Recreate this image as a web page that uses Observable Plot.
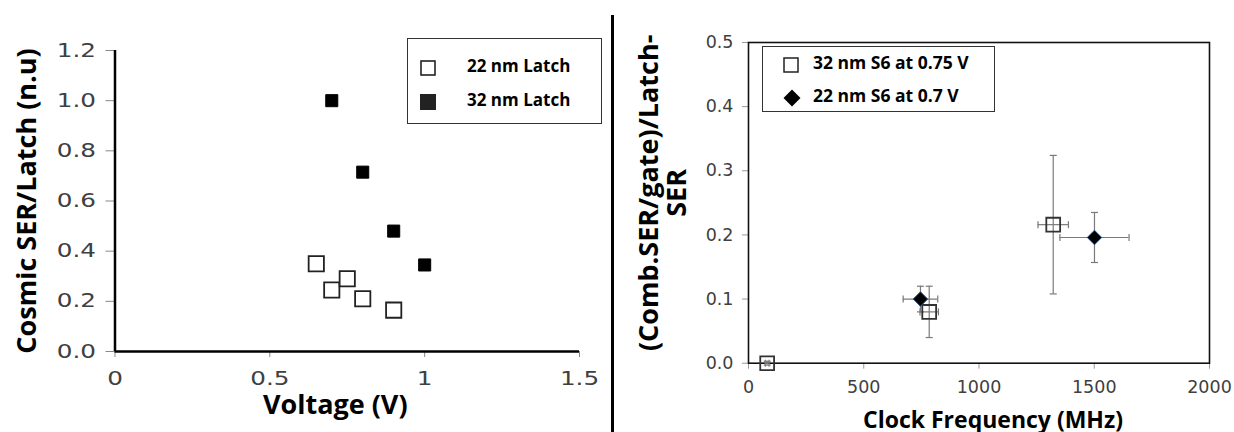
<!DOCTYPE html>
<html>
<head>
<meta charset="utf-8">
<script src="https://cdn.jsdelivr.net/npm/d3@7"></script>
<script src="https://cdn.jsdelivr.net/npm/@observablehq/plot@0.6"></script>
<style>
  html, body { margin: 0; padding: 0; background: #fff; }
  #wrap { position: relative; width: 1234px; height: 432px; overflow: hidden; background: #fff; }
  .panel { position: absolute; top: 0; }
  .legend { position: absolute; border: 1.5px solid #333; box-sizing: border-box; background: #fff; }
  .lgitem { position: absolute; font-family: 'Open Sans', sans-serif; font-weight: bold; color: #000; white-space: nowrap; line-height: 1; }
  .lgsym { position: absolute; }
</style>
</head>
<body>
<div id="wrap"></div>
<script>
// ---------- Left chart data ----------
const volt22 = [0.65, 0.70, 0.75, 0.80, 0.90];
const ser22  = [0.35, 0.245, 0.29, 0.21, 0.165];
const volt32 = [0.70, 0.80, 0.90, 1.00];
const ser32  = [1.00, 0.715, 0.48, 0.345];
const leftYTicks = [0, 0.2, 0.4, 0.6, 0.8, 1.0, 1.2];
const leftXTicks = [0, 0.5, 1, 1.5];
const leftLegend = ["22 nm Latch", "32 nm Latch"];

// ---------- Right chart data ----------
const freq32 = [81, 784, 1322];
const comb32 = [0.0, 0.08, 0.216];
const freqErr32 = [8, 40, 66];
const combErr32 = [0.003, 0.04, 0.108];
const freq22 = [746, 1501];
const comb22 = [0.100, 0.196];
const freqErr22 = [75, 150];
const combErr22 = [0.02, 0.039];
const rightYTicks = [0, 0.1, 0.2, 0.3, 0.4, 0.5];
const rightXTicks = [0, 500, 1000, 1500, 2000];
const rightLegend = ["32 nm S6 at 0.75 V", "22 nm S6 at 0.7 V"];

const wrap = document.getElementById("wrap");
const TITLE_FONT = "'Open Sans', sans-serif";
const TICK_FONT = "'DejaVu Sans', sans-serif";

const hcap = { draw(ctx, size) { const r = Math.sqrt(size / Math.PI); ctx.moveTo(-r, 0); ctx.lineTo(r, 0); } };
const vcap = { draw(ctx, size) { const r = Math.sqrt(size / Math.PI); ctx.moveTo(0, -r); ctx.lineTo(0, r); } };

function stretchTickLabels(svg, sx) {
  svg.querySelectorAll('g[aria-label$="tick label"] text').forEach(t => {
    const tr = t.getAttribute("transform") || "";
    t.setAttribute("transform", tr + ` scale(${sx},1)`);
  });
}

// ---------- Left plot ----------
const d22 = volt22.map((v, i) => ({ v, s: ser22[i] }));
const d32 = volt32.map((v, i) => ({ v, s: ser32[i] }));

const left = Plot.plot({
  width: 612, height: 432,
  marginLeft: 114.5, marginRight: 33, marginTop: 50, marginBottom: 81,
  x: { domain: [0, 1.5] },
  y: { domain: [0, 1.2] },
  style: { fontFamily: TICK_FONT, fontSize: "19px", background: "transparent" },
  marks: [
    Plot.axisY({ ticks: leftYTicks, tickFormat: d3.format(".1f"), tickSize: 9, tickPadding: 10, stroke: "#888", fill: "#404040", label: null }),
    Plot.axisX({ ticks: leftXTicks, tickFormat: d => String(d), tickSize: 6, tickPadding: 14, stroke: "#888", fill: "#404040", label: null }),
    Plot.ruleX([0], { stroke: "#000", strokeWidth: 2.5 }),
    Plot.ruleY([0], { stroke: "#000", strokeWidth: 2.5 }),
    Plot.dot(d32, { x: "v", y: "s", symbol: "square", r: 6.8, fill: "#000", stroke: "#000", strokeWidth: 1 }),
    Plot.dot(d22, { x: "v", y: "s", symbol: "square", r: 8.6, fill: "#fff", stroke: "#222", strokeWidth: 1.8 }),
    Plot.text(["Cosmic SER/Latch (n.u)"], { text: d => d, frameAnchor: "left", rotate: -90, textAnchor: "middle", lineAnchor: "middle", dx: -87.5, fontSize: 27, fontWeight: "bold", fontFamily: TITLE_FONT, fill: "#000" }),
    Plot.text(["Voltage (V)"], { text: d => d, frameAnchor: "bottom", textAnchor: "middle", lineAnchor: "middle", dx: -12, dy: 54, fontSize: 27, fontWeight: "bold", fontFamily: TITLE_FONT, fill: "#000" })
  ]
});
stretchTickLabels(left, 1.3);
left.classList.add("panel");
left.style.left = "0px";
wrap.appendChild(left);

// ---------- Right plot ----------
const e32 = freq32.map((f, i) => ({ f, c: comb32[i], fe: freqErr32[i], ce: combErr32[i] }));
const e22 = freq22.map((f, i) => ({ f, c: comb22[i], fe: freqErr22[i], ce: combErr22[i] }));
const errAll = e32.concat(e22);
const errStroke = "#7a7a7a";

const right = Plot.plot({
  width: 620, height: 432,
  marginLeft: 134, marginRight: 25, marginTop: 42, marginBottom: 69.3,
  x: { domain: [0, 2000] },
  y: { domain: [0, 0.5] },
  style: { fontFamily: TICK_FONT, fontSize: "17.5px", background: "transparent" },
  marks: [
    Plot.axisY({ ticks: rightYTicks, tickFormat: d3.format(".1f"), tickSize: 6, tickPadding: 9, stroke: "#999", fill: "#404040", label: null }),
    Plot.axisX({ ticks: rightXTicks, tickFormat: d => String(d), tickSize: 6, tickPadding: 11, stroke: "#999", fill: "#404040", label: null }),
    Plot.frame({ stroke: "#111", strokeWidth: 1.6 }),
    Plot.ruleX(errAll, { x: "f", y1: d => d.c - d.ce, y2: d => d.c + d.ce, stroke: errStroke, strokeWidth: 1.2 }),
    Plot.ruleY(errAll, { y: "c", x1: d => d.f - d.fe, x2: d => d.f + d.fe, stroke: errStroke, strokeWidth: 1.2 }),
    Plot.dot(errAll, { x: "f", y: d => d.c + d.ce, symbol: hcap, r: 3.5, fill: "none", stroke: errStroke, strokeWidth: 1.2 }),
    Plot.dot(errAll, { x: "f", y: d => d.c - d.ce, symbol: hcap, r: 3.5, fill: "none", stroke: errStroke, strokeWidth: 1.2 }),
    Plot.dot(errAll, { x: d => d.f - d.fe, y: "c", symbol: vcap, r: 3.5, fill: "none", stroke: errStroke, strokeWidth: 1.2 }),
    Plot.dot(errAll, { x: d => d.f + d.fe, y: "c", symbol: vcap, r: 3.5, fill: "none", stroke: errStroke, strokeWidth: 1.2 }),
    Plot.dot(e32, { x: "f", y: "c", symbol: "square", r: 7.8, fill: "none", stroke: "#333", strokeWidth: 1.8 }),
    Plot.dot(e22, { x: "f", y: "c", symbol: "diamond2", r: 6.5, fill: "#000", stroke: "#2b4f7e", strokeWidth: 1 }),
    Plot.text(["(Comb.SER/gate)/Latch-\nSER"], { text: d => d, frameAnchor: "left", rotate: -90, textAnchor: "middle", lineAnchor: "middle", lineHeight: 1.05, dx: -85.5, dy: -10, fontSize: 27, fontWeight: "bold", fontFamily: TITLE_FONT, fill: "#000" }),
    Plot.text(["Clock Frequency (MHz)"], { text: d => d, frameAnchor: "bottom", textAnchor: "middle", lineAnchor: "middle", dx: 14, dy: 57, fontSize: 23, fontWeight: "bold", fontFamily: TITLE_FONT, fill: "#000" })
  ]
});
right.classList.add("panel");
right.style.left = "614px";
wrap.appendChild(right);

// ---------- Divider ----------
const div = document.createElement("div");
Object.assign(div.style, { position: "absolute", left: "610.5px", top: "15px", width: "3.5px", height: "417px", background: "#000" });
wrap.appendChild(div);

// ---------- Legends ----------
function box(l, t, w, h) {
  const b = document.createElement("div");
  b.className = "legend";
  Object.assign(b.style, { left: l + "px", top: t + "px", width: w + "px", height: h + "px" });
  wrap.appendChild(b);
}
function sym(cx, cy, svgInner, size) {
  const s = document.createElementNS("http://www.w3.org/2000/svg", "svg");
  s.setAttribute("width", size); s.setAttribute("height", size);
  s.setAttribute("viewBox", `${-size/2} ${-size/2} ${size} ${size}`);
  s.classList.add("lgsym");
  s.style.left = (cx - size / 2) + "px"; s.style.top = (cy - size / 2) + "px";
  s.innerHTML = svgInner;
  wrap.appendChild(s);
}
function label(x, cy, text, fs) {
  const t = document.createElement("div");
  t.className = "lgitem";
  t.textContent = text;
  t.style.fontSize = fs + "px";
  t.style.left = x + "px";
  t.style.top = (cy - fs * 0.62) + "px";
  wrap.appendChild(t);
}

box(407, 38, 195, 86);
sym(428, 68, '<rect x="-7" y="-7" width="14" height="14" fill="#fff" stroke="#222" stroke-width="1.6"/>', 18);
sym(428, 102, '<rect x="-7.5" y="-7.5" width="15" height="15" fill="#222" stroke="#222" stroke-width="1"/>', 18);
label(467, 68, leftLegend[0], 17);
label(467, 102, leftLegend[1], 17);

box(762, 45.5, 233, 66);
sym(790.7, 65, '<rect x="-7" y="-7" width="14" height="14" fill="#fff" stroke="#222" stroke-width="1.5"/>', 20);
sym(791.5, 97.7, '<path d="M0,-8.5L8.5,0L0,8.5L-8.5,0Z" fill="#000"/>', 20);
label(813, 65, rightLegend[0], 17.5);
label(813, 97.7, rightLegend[1], 17.5);
</script>
</body>
</html>
